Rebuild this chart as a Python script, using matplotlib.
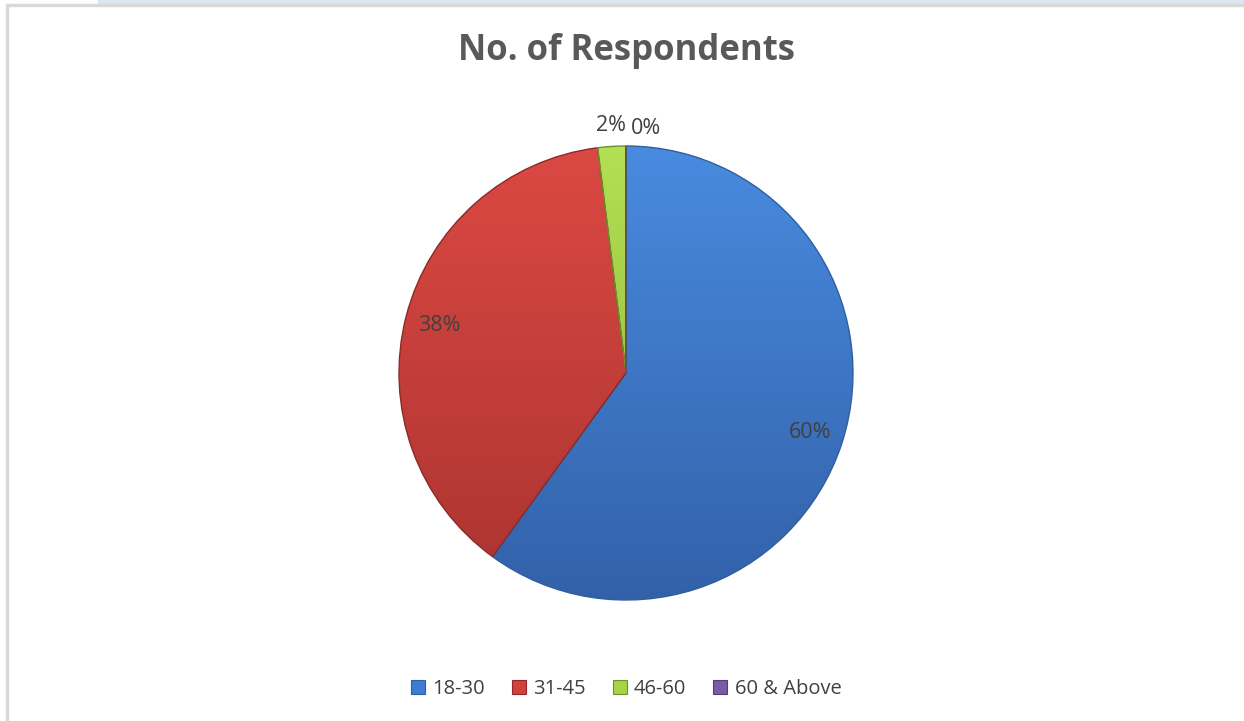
import numpy as np
import matplotlib.pyplot as plt
from matplotlib.patches import Rectangle, Patch
from matplotlib.colors import LinearSegmentedColormap

# Datos del gráfico
grupos = ['18-30', '31-45', '46-60', '60 & Above']
porcentajes = [60, 38, 2, 0]
colores = ['#3D7CD3', '#D5403B', '#A6D444', '#7B5AA6']
claros = ['#4A8DE2', '#DE4A44', '#B5E255', '#8A68B6']
oscuros = ['#315FA6', '#A9322F', '#86AE34', '#5E4483']
bordes = ['#2F5F9E', '#8C2A27', '#6F8F2A', '#553E75']

plt.rcParams['font.family'] = ['Open Sans', 'DejaVu Sans']

fig = plt.figure(figsize=(12.44, 7.21), dpi=100)
W, H = 1244, 721

# Marco de la hoja (bordes grises y banda azul arriba)
fig.patches.append(Rectangle((98 / W, 1 - 4 / H), 1, 4 / H, transform=fig.transFigure,
                             color='#DCE6F1', zorder=0))
fig.patches.append(Rectangle((6 / W, 1 - 6 / H), 1, 2 / H, transform=fig.transFigure,
                             color='#D9D9D9', zorder=0))
fig.patches.append(Rectangle((6 / W, 0), 2 / W, 1 - 4 / H, transform=fig.transFigure,
                             color='#D9D9D9', zorder=0))

# Ejes del pastel (centro ~ (626, 373), radio ~ 227 px)
cx, cy, r = 626, 373, 227
ax = fig.add_axes([(cx - r) / W, (H - cy - r) / H, 2 * r / W, 2 * r / H])

cuñas, textos, autotextos = ax.pie(porcentajes, colors=colores, startangle=90, counterclock=False,
                                   autopct='%1.0f%%', pctdistance=0.85,
                                   wedgeprops=dict(linewidth=1.0),
                                   textprops=dict(color='#404040', fontsize=15.5))

# Degradado vertical dentro de cada cuña (efecto tipo Excel)
grad = np.linspace(0, 1, 256).reshape(-1, 1)
for c, cl, os_, b in zip(cuñas, claros, oscuros, bordes):
    c.set_edgecolor(b)
    cmap = LinearSegmentedColormap.from_list('g', [cl, os_])
    im = ax.imshow(grad, cmap=cmap, extent=(-1.1, 1.1, -1.1, 1.1), aspect='auto', zorder=1.5)
    im.set_clip_path(c)
    c.set_zorder(2)
    c.set_facecolor('none')
for t in autotextos:
    t.set_zorder(3)

# Etiquetas pequeñas fuera del pastel
autotextos[2].set_position((-0.065, 1.09))
autotextos[3].set_position((0.09, 1.075))
ax.set_xlim(-1, 1)
ax.set_ylim(-1, 1)
ax.set_aspect('equal')
ax.axis('off')

fig.text(cx / W, 1 - 51 / H, 'No. of Respondents', ha='center', va='center',
         fontsize=25, fontweight='bold', color='#595959')

# Leyenda
handles = [Patch(facecolor=col, edgecolor=b, linewidth=0.8) for col, b in zip(colores, bordes)]
fig.legend(handles, grupos, loc='center', bbox_to_anchor=(cx / W, (H - 689) / H), ncol=4,
           frameon=False, fontsize=14.5, labelcolor='#404040', handlelength=0.7,
           handleheight=0.7, handletextpad=0.35, columnspacing=1.35)

fig.savefig('out.png', dpi=100)
